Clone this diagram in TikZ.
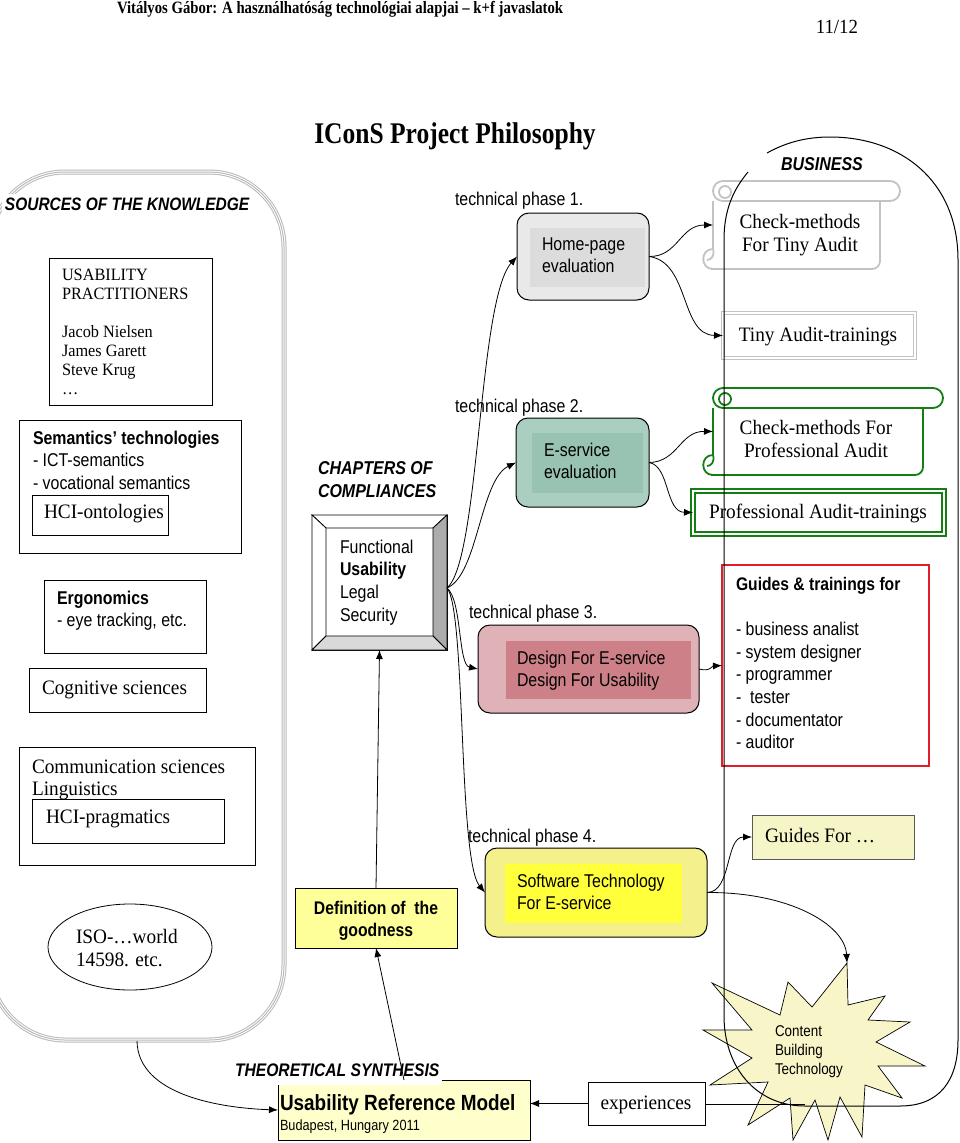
\documentclass[tikz,border=0pt]{standalone}
\usepackage{fontspec}
\setmainfont[FakeStretch=0.94]{Liberation Serif}
\newfontfamily\ns[FakeStretch=0.86]{Liberation Sans}
\newfontfamily\tser[FakeStretch=0.85]{Liberation Serif}
\usetikzlibrary{arrows.meta,shapes.geometric}
\definecolor{sgray}{RGB}{195,195,195}
\definecolor{pgreen}{RGB}{20,125,20}
\definecolor{redb}{RGB}{225,30,40}
\definecolor{homeo}{RGB}{233,233,233}
\definecolor{homei}{RGB}{220,220,220}
\definecolor{esvo}{RGB}{170,207,193}
\definecolor{esvi}{RGB}{152,194,178}
\definecolor{dsgo}{RGB}{222,178,182}
\definecolor{dsgi}{RGB}{205,128,136}
\definecolor{sfto}{RGB}{244,240,140}
\definecolor{sfti}{RGB}{255,255,60}
\definecolor{defy}{RGB}{255,255,153}
\definecolor{urmy}{RGB}{255,255,204}
\definecolor{guidey}{RGB}{245,245,200}
\definecolor{stary}{RGB}{248,246,200}
\newcommand\fsz[2]{\fontsize{#1}{#2}\selectfont}
\newcommand\lns[1]{\begin{tabular}[t]{@{}l@{}}#1\end{tabular}}
\newcommand\clns[1]{\begin{tabular}[t]{@{}c@{}}#1\end{tabular}}
\newcommand\scrollshape[5]{%
  \draw[#1,rounded corners=10pt] (#2,#3) rectangle (#4,#3+20);
  \draw[#1] (#2+12,#3+11) circle[radius=6pt];
  \draw[#1] (#2,#3+20) -- (#2,#5-20);
  \draw[#1,rounded corners=8pt] (#2-2,#5) -- (#4-20,#5) -- (#4-20,#3+20);
  \draw[#1] (#2,#5-20) .. controls (#2-13,#5-20) and (#2-13,#5) .. (#2,#5);
  \draw[#1] (#2,#5-20) .. controls (#2+2,#5-13) and (#2-2,#5-9) .. (#2-6,#5-9);
}
\begin{document}
\begin{tikzpicture}[x=1pt,y=-1pt,
  every node/.style={inner sep=0pt,outer sep=0pt},
  bx/.style={draw,line width=0.8pt,anchor=north west},
  sr/.style={font=\fsz{20.5}{23}},
  sa/.style={font=\ns\fsz{18.5}{22.7}},
  tx/.style={anchor=base west},
  arr/.style={-{Latex[length=9pt,width=7pt]},line width=0.8pt},
  phase/.style={draw,line width=1pt,rounded corners=12pt,anchor=north west},
  inr/.style={anchor=north west},
]
\fill[white] (0,0) rectangle (960,1143);
\useasboundingbox (0,0) rectangle (960,1143);
\clip (0,0) rectangle (960,1143);

% header
\node[anchor=base west,font=\tser\bfseries\fsz{17.3}{19}] (hdr) at (117,13.5) {Vitályos Gábor: A használhatóság technológiai alapjai – k+f javaslatok};
\node[anchor=base east,font=\fsz{20}{22}] (pg) at (858,33) {11/12};
\node[anchor=base,font=\tser\bfseries\fsz{30}{32}] (title) at (455,143) {IConS Project Philosophy};

% sources frame
\foreach \w/\c in {5pt/gray!55,3pt/white,1pt/gray!55}
  \draw[line width=\w,draw=\c,rounded corners=75pt] (-10,172) rectangle (284,1040);
\coordinate (srcbot) at (137,1041);
\node[anchor=base west,fill=white,inner sep=3pt,font=\ns\bfseries\itshape\fsz{18}{20}] (src) at (2,210) {SOURCES OF THE KNOWLEDGE};

\node[bx,minimum width=163pt,minimum height=147pt] (usab) at (49,258) {};
\node[tx,font=\fsz{17.3}{19}] (usabt) at (62,280) {\lns{USABILITY\\PRACTITIONERS\\ \\Jacob Nielsen\\James Garett\\Steve Krug\\…}};
\node[bx,minimum width=222pt,minimum height=133pt] (sem) at (19,420) {};
\node[tx,sa] (semt) at (33,444) {\lns{\textbf{Semantics’ technologies}\\- ICT-semantics\\- vocational semantics}};
\node[bx,minimum width=136pt,minimum height=40pt] (onto) at (32,495) {};
\node[tx,sr] (ontot) at (44,518) {HCI-ontologies};
\node[bx,minimum width=162pt,minimum height=73pt] (ergo) at (44,580) {};
\node[tx,sa] (ergot) at (57,604) {\lns{\textbf{Ergonomics}\\- eye tracking, etc.}};
\node[bx,minimum width=177pt,minimum height=44pt] (cogn) at (29,668) {};
\node[tx,sr] (cognt) at (42,694) {Cognitive sciences};
\node[bx,minimum width=236pt,minimum height=118pt] (comm) at (19,747) {};
\node[tx,font=\fsz{20.5}{22}] (commt) at (32,773) {\lns{Communication sciences\\Linguistics}};
\node[bx,minimum width=192pt,minimum height=44pt] (prag) at (32,799) {};
\node[tx,sr] (pragt) at (46,823) {HCI-pragmatics};
\node[draw,ellipse,line width=0.8pt,minimum width=164pt,minimum height=86pt] (iso) at (130,947) {};
\node[tx,sr] (isot) at (76,943) {\lns{ISO-…world\\14598. etc.}};

% chapters
\node[tx,font=\ns\bfseries\itshape\fsz{18.6}{23}] (chapt) at (318,474) {\lns{CHAPTERS OF\\COMPLIANCES}};
\node[bx,minimum width=135pt,minimum height=135pt] (chap) at (312,515) {};
\filldraw[fill=white,line width=0.8pt] (312,515) -- (447,515) -- (433,528) -- (326,528) -- cycle;
\filldraw[fill=white,line width=0.8pt] (312,515) -- (326,528) -- (326,636) -- (312,650) -- cycle;
\filldraw[fill=gray!65,line width=0.8pt] (447,515) -- (447,650) -- (433,636) -- (433,528) -- cycle;
\filldraw[fill=gray!30,line width=0.8pt] (312,650) -- (447,650) -- (433,636) -- (326,636) -- cycle;
\node[tx,sa] (chapc) at (340,553) {\lns{Functional\\\textbf{Usability}\\Legal\\Security}};
\coordinate (fan) at (447,588);

\node[bx,fill=defy,minimum width=162pt,minimum height=60pt] (def) at (295,888) {};
\node[anchor=base,font=\ns\bfseries\fsz{18.3}{22}] (deft) at (376,914) {\clns{Definition of\ \ the\\goodness}};

% reference model
\node[bx,fill=urmy,minimum width=252pt,minimum height=60pt] (urm) at (278,1080) {};
\node[tx,font=\ns\bfseries\fsz{22}{24}] (urmt) at (280,1110) {Usability Reference Model};
\node[tx,font=\ns\fsz{14.8}{17}] (urmb) at (280,1130) {Budapest, Hungary 2011};
\node[anchor=base west,fill=white,inner xsep=3pt,inner ysep=4pt,text depth=5pt,font=\ns\bfseries\itshape\fsz{18.2}{20}] (theo) at (232,1076) {THEORETICAL SYNTHESIS};
\node[bx,minimum width=117pt,minimum height=43pt] (exp) at (588,1082) {};
\node[anchor=base,sr] (expt) at (646,1109) {experiences};

% phases
\node[tx,sa] (l1) at (455,205) {technical phase 1.};
\node[tx,sa] (l2) at (455,412) {technical phase 2.};
\node[tx,sa] (l3) at (469,618) {technical phase 3.};
\node[tx,sa] (l4) at (468,842) {technical phase 4.};

\node[phase,fill=homeo,minimum width=132pt,minimum height=87pt] (home) at (517,213) {};
\node[inr,fill=homei,minimum width=115pt,minimum height=59pt] (homein) at (530,228) {};
\node[tx,sa] (homet) at (542,250) {\lns{Home-page\\evaluation}};

\node[phase,fill=esvo,minimum width=133pt,minimum height=89pt] (esv) at (516,418) {};
\node[inr,fill=esvi,minimum width=111pt,minimum height=60pt] (esvin) at (532,433) {};
\node[tx,sa] (esvt) at (544,456) {\lns{E-service\\evaluation}};

\node[phase,fill=dsgo,minimum width=221pt,minimum height=88pt] (dsg) at (478,625) {};
\node[inr,fill=dsgi,minimum width=185pt,minimum height=58pt] (dsgin) at (506,641) {};
\node[tx,sa] (dsgt) at (517,664) {\lns{Design For E-service\\Design For Usability}};

\node[phase,fill=sfto,minimum width=222pt,minimum height=89pt] (sft) at (485,848) {};
\node[inr,fill=sfti,minimum width=177pt,minimum height=59pt] (sftin) at (505,864) {};
\node[tx,sa] (sftt) at (517,887) {\lns{Software Technology\\For E-service}};

% right column
\scrollshape{sgray,line width=1.8pt}{713}{181}{900}{269}
\node[anchor=north west,minimum width=187pt,minimum height=88pt] (tiny) at (713,181) {};
\node[anchor=base,sr] (tinyt) at (800,228) {\clns{Check-methods\\For Tiny Audit}};
\node[draw=sgray,double=white,double distance=2.5pt,line width=1.2pt,anchor=north west,minimum width=192pt,minimum height=45pt] (tinytr) at (723,313) {};
\node[anchor=base,sr] (tinytrt) at (818,341) {Tiny Audit-trainings};

\scrollshape{pgreen,line width=1.8pt}{713}{388}{943}{475}
\node[anchor=north west,minimum width=230pt,minimum height=87pt] (prof) at (713,388) {};
\node[anchor=base,sr] (proft) at (816,434) {\clns{Check-methods For\\Professional Audit}};
\node[draw=pgreen,double=white,double distance=2.5pt,line width=1.4pt,anchor=north west,minimum width=251pt,minimum height=43pt] (proftr) at (693,491) {};
\node[anchor=base,sr] (proftrt) at (818,518) {Professional Audit-trainings};

\node[bx,draw=redb,line width=1.2pt,minimum width=207pt,minimum height=201pt] (guide) at (722,565) {};
\node[tx,sa] (guidet) at (736,590) {\lns{{\fsz{18.2}{22.7}\bfseries Guides \& trainings for}\\ \\- business analist\\- system designer\\- programmer\\-\ \ tester\\- documentator\\- auditor}};

\node[bx,draw=gray!70!black,fill=guidey,minimum width=162pt,minimum height=44pt] (gfor) at (752,815) {};
\node[tx,sr] (gfort) at (765,842) {Guides For …};

% star
\filldraw[fill=stary,line width=0.7pt] (847,963) -- (848,1005) -- (885,996) -- (868,1020) -- (910,1022) -- (876,1042) -- (925,1066) -- (878,1066) -- (902,1098) -- (865,1085) -- (862,1137) -- (840,1097) -- (828,1140) -- (815,1100) -- (793,1140) -- (790,1098) -- (748,1125) -- (768,1082) -- (710,1085) -- (752,1058) -- (703,1030) -- (752,1030) -- (712,983) -- (780,1015) -- (788,982) -- (812,1007) -- cycle;
\coordinate (startop) at (847,963);
\node[tx,font=\ns\fsz{15.6}{19}] (cbt) at (775,1036) {\lns{Content\\Building\\Technology}};

% business outline
\draw[line width=1pt] (748,172) .. controls (733,190) and (724,210) .. (724,240) -- (724,1016) .. controls (724,1066) and (755,1106) .. (805,1106) -- (900,1106) .. controls (940,1106) and (958,1080) .. (958,1040) -- (958,260) .. controls (958,180) and (900,137) .. (830,137) .. controls (805,137) and (785,143) .. (767,153);
\node[anchor=base,font=\ns\bfseries\itshape\fsz{18.6}{20}] (biz) at (822,170) {BUSINESS};
\coordinate (bizbot) at (805,1104);

% connectors
\draw[arr] (fan) .. controls (480,560) and (478,300) .. (home.west);
\draw[arr] (fan) .. controls (478,575) and (480,480) .. (esv.west);
\draw[arr] (fan) .. controls (462,600) and (458,665) .. (dsg.west);
\draw[arr] (fan) .. controls (466,610) and (458,860) .. (sft.west);
\draw[arr] (home.east) .. controls (678,257) and (680,225) .. (tiny.west);
\draw[arr] (home.east) .. controls (690,262) and (680,335) .. (tinytr.west);
\draw[arr] (esv.east) .. controls (678,462) and (680,431) .. (prof.west);
\draw[arr] (esv.east) .. controls (670,466) and (665,512) .. (proftr.west);
\draw[arr] (dsg.east) .. controls (710,672) and (712,666) .. (guide.west);
\draw[arr] (sft.east) .. controls (732,892) and (725,837) .. (gfor.west);
\draw[arr] (sft.east) .. controls (790,892) and (845,925) .. (startop);
\draw[arr] (def.north) -- (chap.south);
\draw[arr] (urm.north) -- (def.south);
\draw[arr] (srcbot) .. controls (138,1095) and (220,1108) .. (urm.west);
\draw[line width=0.8pt] (bizbot) -- (exp.east |- bizbot);
\draw[arr] (exp.west) -- (exp.west -| urm.east);
\end{tikzpicture}
\end{document}
